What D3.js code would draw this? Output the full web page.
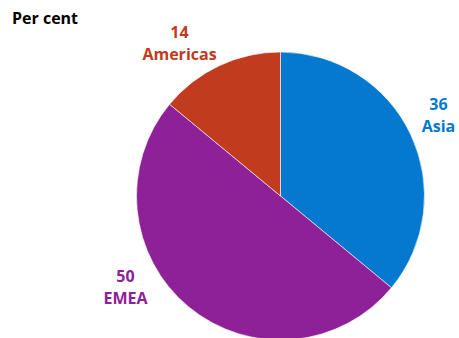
<!DOCTYPE html>
<html>
<head>
<meta charset="utf-8">
<script src="https://cdn.jsdelivr.net/npm/d3@7"></script>
<style>
  html, body { margin: 0; padding: 0; background: #fff; }
  svg { display: block; }
  text { font-family: "Open Sans", "Noto Sans", sans-serif; font-weight: 700; }
</style>
</head>
<body>
<svg id="chart" width="459" height="338"></svg>
<script>
// Regional share, per cent
const regions = ["Asia", "EMEA", "Americas"];
const shares = [36, 50, 14];
const colours = ["#0479cf", "#8e2197", "#c13c1f"];

const svg = d3.select("#chart");
const cx = 280.5, cy = 196, radius = 144;

svg.append("text")
  .attr("x", 12).attr("y", 24)
  .attr("font-size", 16)
  .attr("fill", "#000")
  .text("Per cent");

const data = regions.map((r, i) => ({ region: r, value: shares[i], colour: colours[i] }));

const pie = d3.pie().sort(null).value(d => d.value);
const arc = d3.arc().innerRadius(0).outerRadius(radius);
const arcs = pie(data);

const g = svg.append("g").attr("transform", `translate(${cx},${cy})`);

g.selectAll("path")
  .data(arcs)
  .join("path")
  .attr("d", arc)
  .attr("fill", d => d.data.colour)
  .attr("stroke", "#fff")
  .attr("stroke-width", 0.6);

// Label anchor points (relative to the pie centre), at the value line's baseline
const labelPos = {
  "Asia": [158, -85],
  "EMEA": [-155, 87],
  "Americas": [-101, -157]
};

const labels = g.selectAll("text.label")
  .data(arcs)
  .join("text")
  .attr("class", "label")
  .attr("text-anchor", "middle")
  .attr("font-size", 16)
  .attr("fill", d => d.data.colour)
  .attr("transform", d => `translate(${labelPos[d.data.region][0]},${labelPos[d.data.region][1]})`);

labels.append("tspan")
  .attr("x", 0).attr("y", -1)
  .text(d => d.data.value);

labels.append("tspan")
  .attr("x", 0).attr("y", 21)
  .text(d => d.data.region);
</script>
</body>
</html>
